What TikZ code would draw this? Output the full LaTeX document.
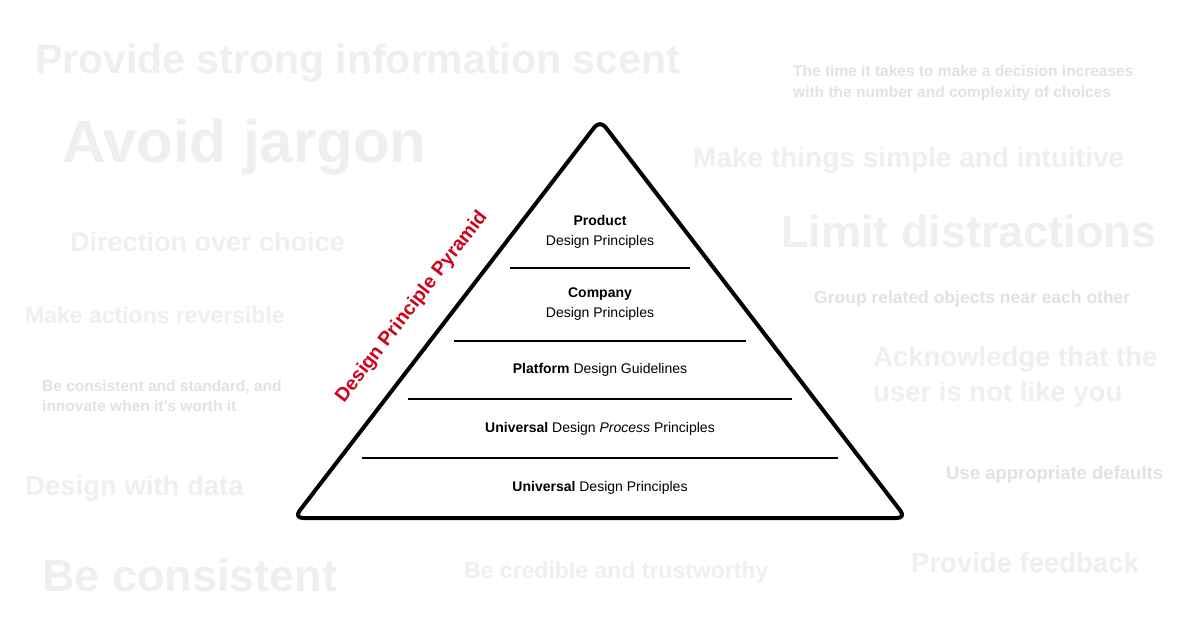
\documentclass[tikz,border=0pt]{standalone}
\usepackage{fontspec}
\setmainfont{Liberation Sans}
\definecolor{bgA}{HTML}{EFEFEF}
\definecolor{bgB}{HTML}{E2E2E2}
\definecolor{redt}{HTML}{D0021B}
\begin{document}
\begin{tikzpicture}[x=1pt,y=-1pt,
  bg/.style={anchor=west,inner sep=0pt,text=bgA,align=left},
  bgs/.style={anchor=west,inner sep=0pt,text=bgB,align=left},
  lvl/.style={inner sep=0pt,align=center,font=\fontsize{14}{20}\selectfont},
  sep/.style={line width=2.2pt}]
\useasboundingbox (0,0) rectangle (1200,636);
\fill[white] (0,0) rectangle (1200,636);
% background texts
\node[bg,font=\bfseries\fontsize{41}{44}\selectfont] (b1) at (35,63) {Provide strong information scent};
\node[bg,font=\bfseries\fontsize{60}{62}\selectfont] (b2) at (62,147) {Avoid jargon};
\node[bg,font=\bfseries\fontsize{27}{30}\selectfont] (b3) at (70,242) {Direction over choice};
\node[bg,font=\bfseries\fontsize{23}{26}\selectfont] (b4) at (25,315) {Make actions reversible};
\node[bgs,font=\bfseries\fontsize{15.5}{20}\selectfont] (b5) at (42,396) {Be consistent and standard, and\\ innovate when it's worth it};
\node[bg,font=\bfseries\fontsize{27.5}{30}\selectfont] (b6) at (25,488) {Design with data};
\node[bg,font=\bfseries\fontsize{45}{46}\selectfont] (b7) at (42,575) {Be consistent};
\node[bg,font=\bfseries\fontsize{23}{26}\selectfont] (b8) at (464,573) {Be credible and trustworthy};
\node[bgs,font=\bfseries\fontsize{15.5}{21}\selectfont] (b9) at (793,83) {The time it takes to make a decision increases\\ with the number and complexity of choices};
\node[bg,font=\bfseries\fontsize{28}{30}\selectfont] (b10) at (693,160) {Make things simple and intuitive};
\node[bg,font=\bfseries\fontsize{45}{46}\selectfont] (b11) at (781,231) {Limit distractions};
\node[bgs,font=\bfseries\fontsize{17.5}{20}\selectfont] (b12) at (814,299) {Group related objects near each other};
\node[bg,font=\bfseries\fontsize{27.5}{35}\selectfont] (b13) at (873,377) {Acknowledge that the\\ user is not like you};
\node[bgs,font=\bfseries\fontsize{18.5}{20}\selectfont] (b14) at (946,475) {Use appropriate defaults};
\node[bg,font=\bfseries\fontsize{27.5}{30}\selectfont] (b15) at (911,563) {Provide feedback};
% pyramid
\coordinate (top) at (600,120);
\coordinate (bl) at (294,518);
\coordinate (br) at (906,518);
\draw[line width=4pt,rounded corners=9pt,line join=round] (top) -- (br) -- (bl) -- cycle;
\coordinate (l1a) at (510,268); \coordinate (l1b) at (690,268);
\coordinate (l2a) at (454,341); \coordinate (l2b) at (746,341);
\coordinate (l3a) at (408,399); \coordinate (l3b) at (792,399);
\coordinate (l4a) at (362,458); \coordinate (l4b) at (838,458);
\draw[sep] (l1a) -- (l1b);
\draw[sep] (l2a) -- (l2b);
\draw[sep] (l3a) -- (l3b);
\draw[sep] (l4a) -- (l4b);
\node[lvl] (p1) at (600,232) {\textbf{Product}\\Design Principles};
\node[lvl] (p2) at (600,304) {\textbf{Company}\\Design Principles};
\node[lvl] (p3) at (600,370) {\textbf{Platform} Design Guidelines};
\node[lvl] (p4) at (600,429) {\textbf{Universal} Design \textit{Process} Principles};
\node[lvl] (p5) at (600,488) {\textbf{Universal} Design Principles};
\node[rotate=52.4,text=redt,font=\bfseries\fontsize{19.5}{22}\selectfont,inner sep=0pt] (title) at (412,307) {Design Principle Pyramid};
\end{tikzpicture}
\end{document}
